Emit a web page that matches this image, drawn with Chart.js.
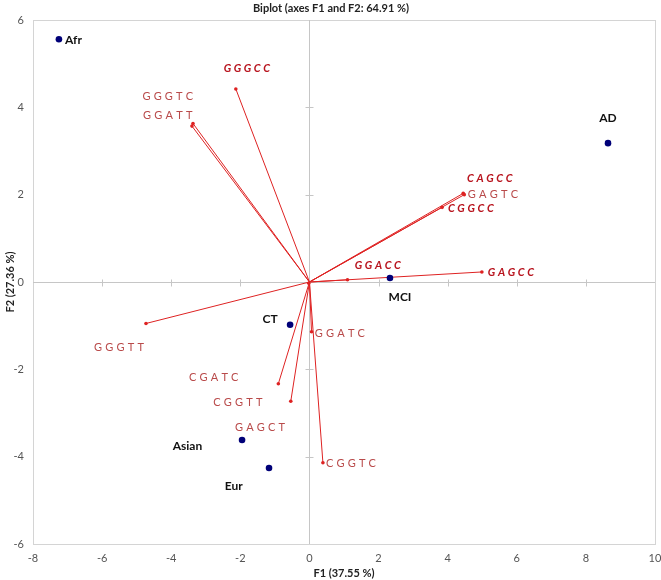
<!DOCTYPE html>
<html>
<head>
<meta charset="utf-8">
<script src="https://cdn.jsdelivr.net/npm/chart.js@4"></script>
<style>
html,body{margin:0;padding:0;background:#fff;}
#wrap{width:661px;height:580px;position:relative;}
</style>
</head>
<body>
<div id="wrap"><canvas id="c" width="661" height="580"></canvas></div>
<script>
// Observations (blue points)
const obsNames = ['Afr', 'AD', 'MCI', 'CT', 'Asian', 'Eur'];
const obsF1 = [-7.25, 8.64, 2.33, -0.56, -1.95, -1.17];
const obsF2 = [5.56, 3.18, 0.09, -0.98, -3.62, -4.26];
const obsLabelF1 = [-6.83, 8.64, 2.62, -1.14, -3.53, -2.19];
const obsLabelF2 = [5.55, 3.76, -0.34, -0.85, -3.76, -4.68];

// Variables (red vectors)
const varNames = ['GGGCC', 'GGGTC', 'GGATT', 'CAGCC', 'GAGTC', 'CGGCC', 'GGACC', 'GAGCC', 'GGGTT', 'GGATC', 'CGATC', 'CGGTT', 'GAGCT', 'CGGTC'];
const varF1 = [-2.13, -3.37, -3.40, 4.45, 4.48, 3.84, 1.10, 4.99, -4.73, 0.06, -0.90, -0.54, -0.02, 0.39];
const varF2 = [4.42, 3.63, 3.57, 2.03, 2.00, 1.71, 0.05, 0.23, -0.95, -1.14, -2.33, -2.73, -0.03, -4.14];
const varBold = [true, false, false, true, false, true, true, true, false, false, false, false, false, false];
const varLabelF1 = [-1.81, -4.10, -4.10, 5.22, 5.31, 4.67, 1.98, 5.83, -5.51, 0.88, -2.77, -2.07, -1.43, 1.20];
const varLabelF2 = [4.90, 4.26, 3.82, 2.36, 2.01, 1.69, 0.39, 0.21, -1.51, -1.17, -2.18, -2.75, -3.34, -4.15];

// Axis ticks
const xTicks = [-8, -6, -4, -2, 0, 2, 4, 6, 8, 10];
const yTicks = [-6, -4, -2, 0, 2, 4, 6];

const titleText = 'Biplot (axes F1 and F2: 64.91 %)';
const xTitle = 'F1 (37.55 %)';
const yTitle = 'F2 (27.36 %)';

const FONT = 'Lato, "Open Sans", sans-serif';

const vecData = [];
varNames.forEach((n, i) => {
  vecData.push({x: 0, y: 0});
  vecData.push({x: varF1[i], y: varF2[i]});
  vecData.push({x: null, y: null});
});
const obsData = obsNames.map((n, i) => ({x: obsF1[i], y: obsF2[i]}));

function spacedText(ctx, text, cx, cy, spacing) {
  const ws = [...text].map(ch => ctx.measureText(ch).width);
  const total = ws.reduce((a, b) => a + b, 0) + spacing * (text.length - 1);
  let x = cx - total / 2;
  ctx.textAlign = 'left';
  ctx.textBaseline = 'middle';
  [...text].forEach((ch, i) => { ctx.fillText(ch, x, cy); x += ws[i] + spacing; });
}

const decor = {
  id: 'decor',
  beforeDatasetsDraw(chart) {
    const {ctx, chartArea: a, scales: {x, y}} = chart;
    ctx.save();
    ctx.strokeStyle = '#d4d4d4';
    ctx.lineWidth = 1;
    ctx.strokeRect(Math.round(a.left) + 0.5, Math.round(a.top) + 0.5, Math.round(a.right - a.left), Math.round(a.bottom - a.top));
    const x0 = Math.round(x.getPixelForValue(0)) + 0.5;
    const y0 = Math.round(y.getPixelForValue(0)) + 0.5;
    ctx.strokeStyle = '#c6c6c6';
    ctx.beginPath();
    ctx.moveTo(x0, a.top); ctx.lineTo(x0, a.bottom);
    ctx.moveTo(a.left, y0); ctx.lineTo(a.right, y0);
    xTicks.forEach(v => {
      if (v === xTicks[0] || v === xTicks[xTicks.length - 1] || v === 0) return;
      const px = Math.round(x.getPixelForValue(v)) + 0.5;
      ctx.moveTo(px, y0 - 3); ctx.lineTo(px, y0 + 4);
    });
    yTicks.forEach(v => {
      if (v === yTicks[0] || v === yTicks[yTicks.length - 1] || v === 0) return;
      const py = Math.round(y.getPixelForValue(v)) + 0.5;
      ctx.moveTo(x0 - 4, py); ctx.lineTo(x0 + 4, py);
    });
    ctx.stroke();
    ctx.restore();
  },
  afterDatasetsDraw(chart) {
    const {ctx, chartArea: a, scales: {x, y}} = chart;
    ctx.save();
    // variable labels
    varNames.forEach((n, i) => {
      const px = x.getPixelForValue(varLabelF1[i]);
      const py = y.getPixelForValue(varLabelF2[i]);
      if (varBold[i]) {
        ctx.font = 'italic bold 11px ' + FONT;
        ctx.fillStyle = '#B8141E';
        spacedText(ctx, n, px, py, 2.6);
      } else {
        ctx.font = '11px ' + FONT;
        ctx.fillStyle = '#B94A4A';
        spacedText(ctx, n, px, py, 3.2);
      }
    });
    // observation labels
    ctx.font = 'bold 12px ' + FONT;
    ctx.fillStyle = '#111';
    ctx.textAlign = 'center';
    ctx.textBaseline = 'middle';
    obsNames.forEach((n, i) => {
      ctx.fillText(n, x.getPixelForValue(obsLabelF1[i]), y.getPixelForValue(obsLabelF2[i]));
    });
    // titles
    ctx.font = 'bold 11px ' + FONT;
    ctx.fillStyle = '#222';
    ctx.fillText(titleText, 331, 8);
    ctx.fillText(xTitle, (a.left + a.right) / 2, 573);
    ctx.translate(10, (a.top + a.bottom) / 2);
    ctx.rotate(-Math.PI / 2);
    ctx.fillText(yTitle, 0, 0);
    ctx.restore();
  }
};

new Chart(document.getElementById('c'), {
  type: 'scatter',
  data: {
    datasets: [
      {
        data: vecData,
        showLine: true,
        spanGaps: false,
        borderColor: '#DE2222',
        borderWidth: 1,
        backgroundColor: '#DE2222',
        pointRadius: ctx => (ctx.dataIndex % 3 === 1 ? 1.8 : 0),
        pointBorderWidth: 0,
        pointHoverRadius: 0,
        order: 2
      },
      {
        data: obsData,
        showLine: false,
        backgroundColor: '#000078',
        borderColor: '#000078',
        pointRadius: 3.3,
        pointBorderWidth: 0,
        order: 1
      }
    ]
  },
  options: {
    responsive: false,
    animation: false,
    events: [],
    layout: {padding: {top: 20, right: 6, left: 0, bottom: 0}},
    plugins: {legend: {display: false}, tooltip: {enabled: false}, title: {display: false}},
    scales: {
      x: {
        type: 'linear', min: -8, max: 10,
        afterBuildTicks: s => { s.ticks = xTicks.map(v => ({value: v})); },
        afterFit: s => { s.height = 36; s.paddingLeft = 0; s.paddingRight = 0; },
        grid: {display: false, drawTicks: false},
        border: {display: false},
        ticks: {padding: 8, color: '#555', font: {family: FONT, size: 11}}
      },
      y: {
        type: 'linear', min: -6, max: 6,
        afterBuildTicks: s => { s.ticks = yTicks.map(v => ({value: v})); },
        afterFit: s => { s.width = 33; s.paddingTop = 0; s.paddingBottom = 0; },
        grid: {display: false, drawTicks: false},
        border: {display: false},
        ticks: {padding: 9, color: '#555', font: {family: FONT, size: 11}}
      }
    }
  },
  plugins: [decor]
});
</script>
</body>
</html>
